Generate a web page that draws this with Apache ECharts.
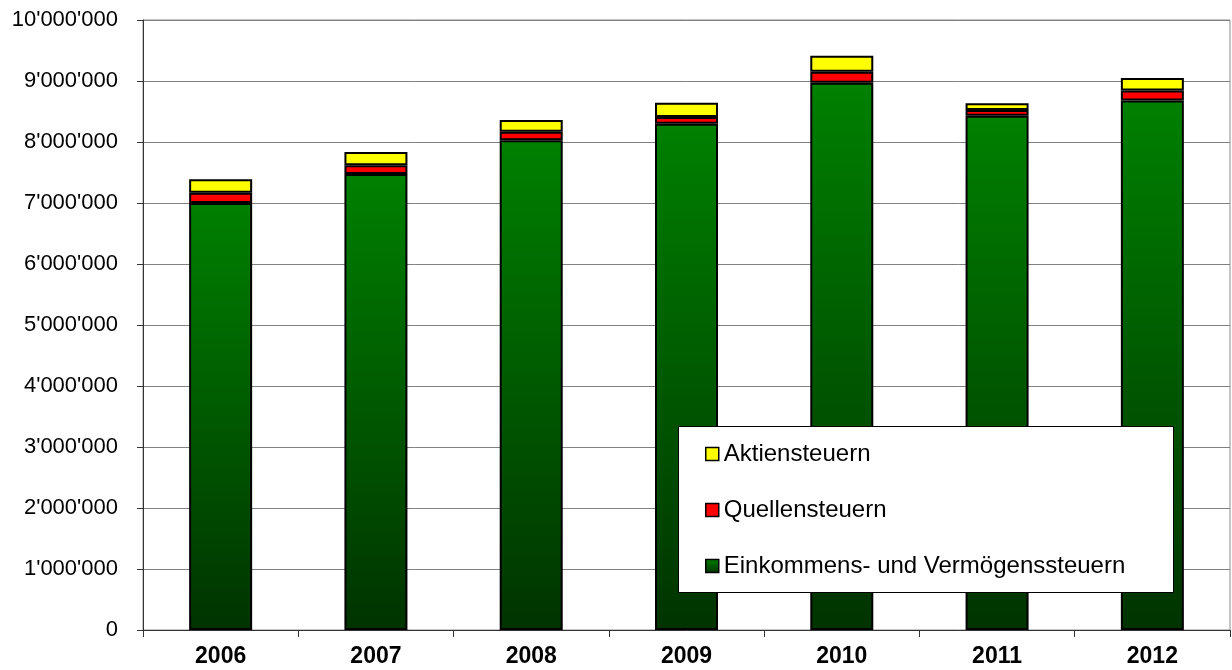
<!DOCTYPE html>
<html>
<head>
<meta charset="utf-8">
<script src="https://cdn.jsdelivr.net/npm/echarts@6/dist/echarts.min.js"></script>
<style>
  html, body { margin: 0; padding: 0; background: #fff; }
  #chart { width: 1232px; height: 670px; }
</style>
</head>
<body>
<div id="chart"></div>
<script>
// Steuererträge pro Jahr (CHF), gestapelt nach Steuerart
const years = ['2006', '2007', '2008', '2009', '2010', '2011', '2012'];
const einkommenVermoegen = [7000000, 7475000, 8030000, 8300000, 8970000, 8430000, 8680000];
const quellensteuern = [170000, 145000, 140000, 110000, 180000, 95000, 165000];
const aktiensteuern = [220000, 215000, 190000, 235000, 265000, 110000, 205000];
const legendNames = ['Aktiensteuern', 'Quellensteuern', 'Einkommens- und Vermögenssteuern'];

const FONT = '"Liberation Sans", Arial, sans-serif';

function swissFormat(v) {
  return String(Math.round(v)).replace(/\B(?=(\d{3})+(?!\d))/g, "'");
}

const border = { borderColor: '#000', borderWidth: 2 };

const chart = echarts.init(document.getElementById('chart'), null, { renderer: 'canvas' });
chart.setOption({
  animation: false,
  backgroundColor: '#fff',
  textStyle: { fontFamily: FONT },
  grid: {
    left: 143, right: 2, top: 20, bottom: 40,
    show: true, borderColor: '#8c8c8c', borderWidth: 1, backgroundColor: '#fff'
  },
  xAxis: {
    type: 'category',
    data: years,
    axisLine: { lineStyle: { color: '#333', width: 1 } },
    axisTick: { show: true, length: 7, lineStyle: { color: '#333' } },
    axisLabel: { fontFamily: FONT, fontSize: 23, fontWeight: 'bold', color: '#000', margin: 15 }
  },
  yAxis: {
    type: 'value',
    min: 0, max: 10000000, interval: 1000000,
    axisLine: { show: true, lineStyle: { color: '#333', width: 1 } },
    axisTick: { show: true, length: 6, lineStyle: { color: '#333' } },
    splitLine: { lineStyle: { color: '#808080', width: 1 } },
    axisLabel: { fontFamily: FONT, fontSize: 22, color: '#000', margin: 25, formatter: swissFormat }
  },
  legend: {
    data: legendNames,
    orient: 'vertical',
    left: 705, top: 441,
    icon: 'rect',
    itemWidth: 13, itemHeight: 13, itemGap: 30,
    padding: 0,
    z: 101,
    itemStyle: { borderColor: '#000', borderWidth: 1.5 },
    textStyle: { fontFamily: FONT, fontSize: 24, color: '#000', lineHeight: 26 }
  },
  graphic: [{
    type: 'rect',
    z: 100,
    shape: { x: 678.5, y: 426.5, width: 495, height: 166 },
    style: { fill: '#fff', stroke: '#000', lineWidth: 1 }
  }],
  series: [
    {
      name: 'Einkommens- und Vermögenssteuern',
      type: 'bar', stack: 'total', barWidth: 63,
      data: einkommenVermoegen,
      itemStyle: Object.assign({
        color: new echarts.graphic.LinearGradient(0, 0, 0, 1, [
          { offset: 0, color: '#008000' },
          { offset: 1, color: '#003300' }
        ])
      }, border)
    },
    {
      name: 'Quellensteuern',
      type: 'bar', stack: 'total', barWidth: 63,
      data: quellensteuern,
      itemStyle: Object.assign({ color: '#ff0000' }, border)
    },
    {
      name: 'Aktiensteuern',
      type: 'bar', stack: 'total', barWidth: 63,
      data: aktiensteuern,
      itemStyle: Object.assign({ color: '#ffff00' }, border)
    }
  ]
});
</script>
</body>
</html>
